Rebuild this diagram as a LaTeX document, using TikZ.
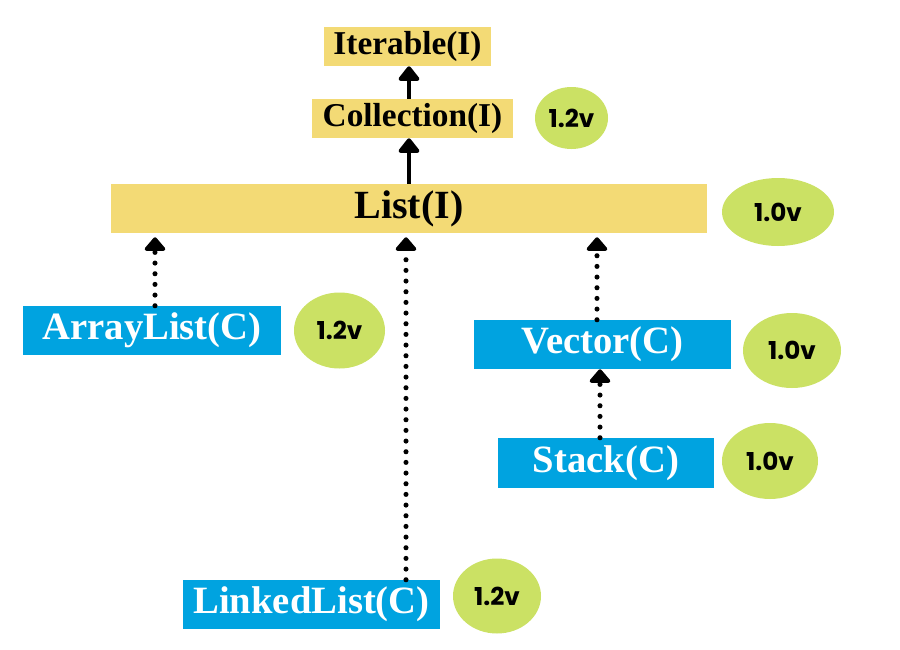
\documentclass[tikz,border=0pt]{standalone}
\usepackage{fontspec}
\setmainfont{Liberation Serif}
\newfontfamily\popfont{Poppins}
\usetikzlibrary{shapes.geometric,arrows.meta}
\definecolor{ylw}{RGB}{243,218,117}
\definecolor{blu}{RGB}{0,163,224}
\definecolor{grn}{RGB}{203,225,100}
\begin{document}
\begin{tikzpicture}[x=0.75pt,y=-0.75pt,
  ybox/.style={fill=ylw, inner sep=0pt, text=black, font=\bfseries\fontsize{25}{25}\selectfont},
  bbox/.style={fill=blu, inner sep=0pt, text=white, font=\bfseries\fontsize{29}{29}\selectfont},
  ver/.style={ellipse, fill=grn, inner sep=0pt, text=black, font=\popfont\bfseries\fontsize{18.5}{18.5}\selectfont},
  solidarr/.style={line width=3.2pt, -{Triangle[width=18pt,length=12pt,round]}},
  dotarr/.style={line width=3.8pt, line cap=round, dash pattern=on 0pt off 8pt, -{Triangle[width=18pt,length=11pt,round]}, shorten >=3pt}]
\useasboundingbox[fill=white] (0,0) rectangle (900,650);
% yellow interface boxes
\node[ybox, minimum width=125.25pt, minimum height=29.25pt] (iter) at (407.5,46.5) {Iterable(I)};
\node[ybox, minimum width=150.75pt, minimum height=29.25pt] (coll) at (412.5,118.5) {Collection(I)};
\node[ybox, minimum width=447pt, minimum height=36.75pt, font=\bfseries\fontsize{30}{30}\selectfont] (list) at (409,208.5) {List(I)};
% blue class boxes
\node[bbox, minimum width=193.5pt, minimum height=36.75pt] (arr) at (152,330.5) {ArrayList(C)};
\node[bbox, minimum width=192.75pt, minimum height=36.75pt] (vec) at (602.5,344.5) {Vector(C)};
\node[bbox, minimum width=162pt, minimum height=37.5pt] (stack) at (606,463) {Stack(C)};
\node[bbox, minimum width=192.75pt, minimum height=36.75pt] (linked) at (311.5,604.5) {LinkedList(C)};
% version ellipses
\node[ver, minimum width=54.75pt, minimum height=46.5pt] (e1) at (571.5,118) {1.2v};
\node[ver, minimum width=84pt, minimum height=51pt] (e2) at (778,212) {1.0v};
\node[ver, minimum width=68.25pt, minimum height=57pt] (e3) at (339.5,330.5) {1.2v};
\node[ver, minimum width=73.5pt, minimum height=56.25pt] (e4) at (792,350.5) {1.0v};
\node[ver, minimum width=72pt, minimum height=57pt] (e5) at (770,461) {1.0v};
\node[ver, minimum width=66pt, minimum height=56.25pt] (e6) at (497,596) {1.2v};
% connector columns
\coordinate (cA) at (409,0);
\coordinate (cB) at (155,0);
\coordinate (cC) at (406,0);
\coordinate (cD) at (597,0);
\coordinate (cE) at (600,0);
% connectors
\draw[solidarr] (cA |- coll.north) -- (cA |- iter.south);
\draw[solidarr] (cA |- list.north) -- (cA |- coll.south);
\draw[dotarr] (cB |- arr.north) -- (cB |- list.south);
\draw[dotarr] (cC |- linked.north) -- (cC |- list.south);
\draw[dotarr] (cD |- vec.north) -- (cD |- list.south);
\draw[dotarr, shorten >=0pt] (cE |- stack.north) -- (cE |- vec.south);
\end{tikzpicture}
\end{document}
